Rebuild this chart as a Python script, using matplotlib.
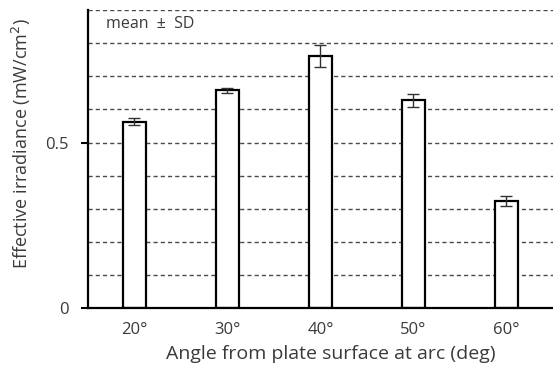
import matplotlib
matplotlib.use("Agg")
import matplotlib.pyplot as plt

plt.rcParams["font.family"] = ["Open Sans", "DejaVu Sans"]

# irradiance per arc angle (mean and SD)
angles = ["20°", "30°", "40°", "50°", "60°"]
means = [0.563, 0.658, 0.762, 0.627, 0.323]
sds = [0.010, 0.007, 0.034, 0.020, 0.015]
grid_levels = [0.1, 0.2, 0.3, 0.4, 0.5, 0.6, 0.7, 0.8, 0.9]

fig = plt.figure(figsize=(5.53, 3.70), dpi=100)
ax = fig.add_axes([0.159, 0.1676, 0.841, 0.805])

for g in grid_levels:
    ax.axhline(g, color="#4a4a4a", lw=1.0, ls=(0, (3, 2.2)), zorder=0)

x = range(len(angles))
ax.bar(x, means, width=0.24, color="white", edgecolor="black", lw=1.6, zorder=2)
ax.errorbar(x, means, yerr=sds, fmt="none", ecolor="#333333", elinewidth=1.0,
            capsize=4.3, capthick=1.0, zorder=3)

ax.set_xlim(-0.5, 4.5)
ax.set_ylim(0, 0.9)
ax.set_xticks(list(x))
ax.set_xticklabels(angles)
ax.set_yticks([0, 0.5])
ax.set_yticklabels(["0", "0.5"])
ax.tick_params(axis="x", length=0, pad=10, labelsize=12, labelcolor="#3a3a3a")
ax.tick_params(axis="y", length=5, width=1.5, pad=9, labelsize=12, labelcolor="#3a3a3a")

for s in ["top", "right"]:
    ax.spines[s].set_visible(False)
for s in ["left", "bottom"]:
    ax.spines[s].set_linewidth(1.6)
    ax.spines[s].set_zorder(4)

ax.text(0.038, 0.955, "mean  \u00b1  SD", transform=ax.transAxes, fontsize=11.5,
        color="#3a3a3a", va="center", ha="left")

ax.set_xlabel("Angle from plate surface at arc (deg)", fontsize=14, color="#3a3a3a")
ax.xaxis.set_label_coords(0.523, -0.125)
ax.set_ylabel("Effective irradiance (mW/cm$^2$)", fontsize=13, color="#3a3a3a")
ax.yaxis.set_label_coords(-0.118, 0.55)

fig.savefig("out.png", dpi=100)
